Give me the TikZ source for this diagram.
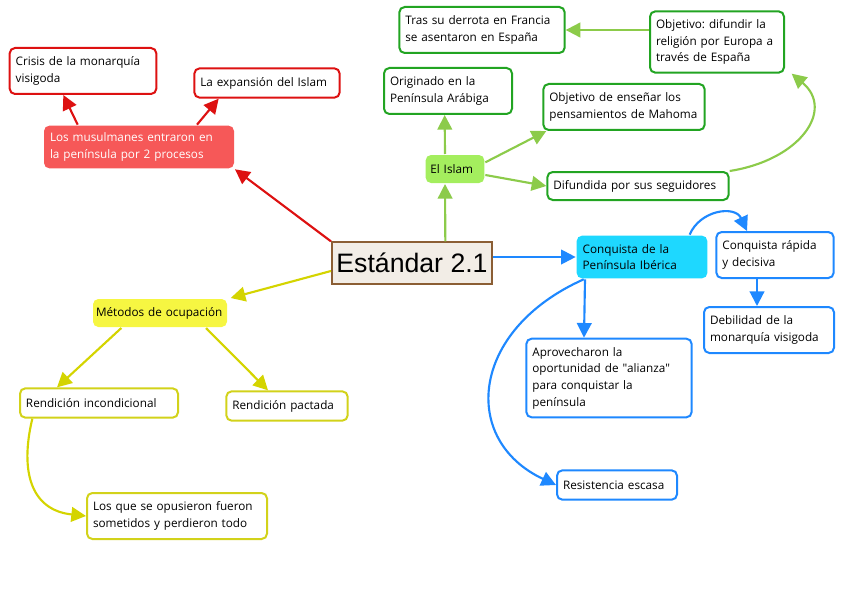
\documentclass[tikz,border=0pt]{standalone}
\usepackage{fontspec}
\setmainfont{Open Sans}
\newfontfamily\titlefont{Liberation Sans}
\usetikzlibrary{arrows.meta}
\frenchspacing

\definecolor{rojo}{HTML}{DD1111}
\definecolor{rojofondo}{HTML}{F65858}
\definecolor{verde}{HTML}{22A422}
\definecolor{verdelinea}{HTML}{8CCB4A}
\definecolor{verdefondo}{HTML}{A4EE5E}
\definecolor{azul}{HTML}{1E88FF}
\definecolor{celeste}{HTML}{1ED8FF}
\definecolor{amarillo}{HTML}{D2D21A}
\definecolor{amarillolinea}{HTML}{D4D400}
\definecolor{amarillofondo}{HTML}{F6F642}
\definecolor{marron}{HTML}{8B5E34}
\definecolor{beige}{HTML}{F2EDE6}

\begin{document}
\begin{tikzpicture}[x=0.75pt, y=-0.75pt,
	caja/.style={draw, rounded corners=4pt, line width=1.5pt, fill=white, align=left,
		inner xsep=4.5pt, inner ysep=3pt, font=\fontsize{8.8}{12.5}\selectfont},
	flecha/.style={line width=1.6pt, -{Triangle[length=11pt, width=11pt]}},
	unalinea/.style={minimum height=22pt},
	doslineas/.style={minimum height=34.5pt}]
	\useasboundingbox (0,0) rectangle (848,599);
	
	% Central node
	\node[draw=marron, fill=beige, line width=1.5pt, minimum width=119pt, minimum height=31pt,
		font=\titlefont\fontsize{20}{22}\selectfont] (central) at (412,263) {Estándar 2.1};
	
	% Red branch
	\node[caja, draw=none, fill=rojofondo, text=white, text width=133.5pt, minimum height=32pt] (musul) at (139,147)
		{Los musulmanes entraron en\\la península por 2 procesos};
	\node[caja, draw=rojo, text width=101pt, doslineas] (crisis) at (83,71)
		{Crisis de la monarquía\\visigoda};
	\node[caja, draw=rojo, text width=100pt, unalinea] (expansion) at (267,83)
		{La expansión del Islam};
	
	\draw[flecha, rojo] (central.north west) -- (musul.south east);
	\draw[flecha, rojo] ([xshift=26pt]musul.north west) -- ([xshift=41pt]crisis.south west);
	\draw[flecha, rojo] ([xshift=115.5pt]musul.north west) -- ([xshift=19pt]expansion.south west);
	
	% Green branch
	\node[caja, draw=none, fill=verdefondo, text width=37pt, minimum height=21pt, inner xsep=3.5pt] (islam) at (455,169)
		{El Islam};
	\node[caja, draw=verde, text width=87pt, doslineas] (originado) at (448,91)
		{Originado en la\\Península Arábiga};
	\node[caja, draw=verde, text width=112pt, doslineas] (ensenar) at (624,107)
		{Objetivo de enseñar los\\pensamientos de Mahoma};
	\node[caja, draw=verde, text width=127pt, minimum height=21pt] (difundida) at (638,186)
		{Difundida por sus seguidores};
	\node[caja, draw=verde, text width=91.5pt, minimum height=46pt] (objetivo) at (717,42)
		{Objetivo: difundir la\\religión por Europa a\\través de España};
	\node[caja, draw=verde, text width=115pt, doslineas] (tras) at (482,30)
		{Tras su derrota en Francia\\se asentaron en España};
	
	\draw[flecha, verdelinea] ([xshift=25pt]central.north) -- ([xshift=-7.5pt]islam.south);
	\draw[flecha, verdelinea] ([xshift=-7.5pt]islam.north) -- ([xshift=-2.5pt]originado.south);
	\draw[flecha, verdelinea] ([yshift=5pt]islam.east) -- ([xshift=3pt]ensenar.south west);
	\draw[flecha, verdelinea] ([yshift=-4.5pt]islam.east) -- (difundida.west);
	\draw[flecha, verdelinea] (difundida.north east) .. controls (800,160) and (835,110) .. ([xshift=5pt]objetivo.south east);
	\draw[flecha, verdelinea] (tras.east -| objetivo.west) -- (tras.east);
	
	% Blue branch
	\node[caja, draw=none, fill=celeste, text width=89pt, minimum height=32pt] (conquista) at (642,257)
		{Conquista de la\\Península Ibérica};
	\node[caja, draw=azul, text width=79pt, doslineas] (rapida) at (775,255)
		{Conquista rápida\\y decisiva};
	\node[caja, draw=azul, text width=88.5pt, doslineas] (debilidad) at (769,330)
		{Debilidad de la\\monarquía visigoda};
	\node[caja, draw=azul, text width=115pt, minimum height=59pt] (aprovecharon) at (609,378)
		{Aprovecharon la\\oportunidad de \textquotedbl alianza\textquotedbl\\para conquistar la\\península};
	\node[caja, draw=azul, text width=81pt, unalinea] (resistencia) at (617,485)
		{Resistencia escasa};
	
	\draw[flecha, azul] ([yshift=4.5pt]central.east) -- (conquista.west);
	\draw[flecha, azul] ([xshift=-14pt]conquista.north east) .. controls (700,210) and (735,205) .. ([xshift=-21pt]rapida.north);
	\draw[flecha, azul] ([xshift=-13.5pt]rapida.south) -- ([xshift=-9pt]debilidad.north);
	\draw[flecha, azul] ([xshift=7pt]conquista.south west) -- ([xshift=44pt]aprovecharon.north west);
	\draw[flecha, azul] ([xshift=6pt]conquista.south west) .. controls (470,330) and (460,440) .. (resistencia.west);
	
	% Yellow branch
	\node[caja, draw=none, fill=amarillofondo, text width=96pt, minimum height=21pt, inner xsep=2.25pt] (metodos) at (160,313)
		{Métodos de ocupación};
	\node[caja, draw=amarillo, text width=109.5pt, unalinea] (incondicional) at (99,403)
		{Rendición incondicional};
	\node[caja, draw=amarillo, text width=82pt, unalinea] (pactada) at (287,406)
		{Rendición pactada};
	\node[caja, draw=amarillo, text width=126pt, doslineas] (opusieron) at (177,516)
		{Los que se opusieron fueron\\sometidos y perdieron todo};
	
	\draw[flecha, amarillolinea] ([yshift=-6pt]central.west) -- ([xshift=2pt]metodos.north east);
	\draw[flecha, amarillolinea] ([xshift=22pt]metodos.south west) -- ([xshift=28.5pt]incondicional.north west);
	\draw[flecha, amarillolinea] ([xshift=-16.5pt]metodos.south east) -- ([xshift=32pt]pactada.north west);
	\draw[flecha, amarillolinea] ([xshift=10pt]incondicional.south west) .. controls (20,470) and (30,510) .. (opusieron.west);
\end{tikzpicture}
\end{document}
